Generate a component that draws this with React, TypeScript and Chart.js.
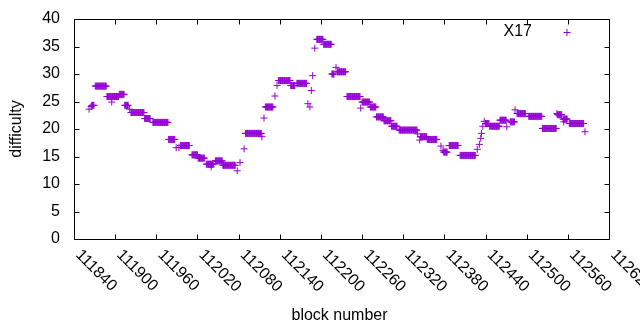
import React, { useEffect, useRef } from 'react';
import { Chart, registerables } from 'chart.js';

Chart.register(...registerables);

// Runs of constant difficulty: first block, last block, value
const runStart = [
  111862, 111865, 111866, 111871, 111888, 111895, 111906, 111914, 111921, 111923,
  111943, 111955, 111978, 111989, 111993, 111995, 112012, 112021, 112033, 112040,
  112046, 112057, 112078, 112082, 112088, 112090, 112114, 112117, 112119, 112133,
  112136, 112138, 112156, 112165, 112181, 112184, 112186, 112188, 112191, 112194,
  112204, 112216, 112222, 112224, 112238, 112258, 112260, 112272, 112281, 112292,
  112303, 112314, 112341, 112344, 112345, 112355, 112375, 112378, 112379, 112387,
  112403, 112428, 112431, 112433, 112434, 112436, 112438, 112440, 112446, 112461,
  112471, 112476, 112483, 112486, 112503, 112523, 112544, 112545, 112553, 112554,
  112562, 112585,
];
const runEnd = [
  111862, 111865, 111869, 111887, 111905, 111895, 111913, 111919, 111921, 111942,
  111951, 111977, 111987, 111989, 111993, 112008, 112020, 112030, 112043, 112040,
  112056, 112075, 112078, 112082, 112088, 112113, 112114, 112117, 112130, 112133,
  112136, 112155, 112162, 112179, 112181, 112184, 112186, 112188, 112191, 112203,
  112215, 112219, 112222, 112236, 112257, 112258, 112271, 112280, 112291, 112302,
  112311, 112340, 112341, 112344, 112354, 112369, 112375, 112378, 112384, 112400,
  112425, 112428, 112431, 112433, 112434, 112436, 112438, 112445, 112460, 112470,
  112471, 112482, 112483, 112498, 112522, 112543, 112544, 112551, 112559, 112554,
  112583, 112585,
];
const runValue = [
  23.6, 24.1, 24.3, 27.8, 25.9, 24.9, 26.3, 24.3, 23.6, 23.0,
  21.9, 21.2, 18.1, 16.6, 16.6, 17.0, 15.3, 14.7, 13.6, 13.1,
  14.2, 13.4, 12.4, 13.9, 16.4, 19.2, 18.6, 22.0, 24.0, 26.0,
  27.9, 28.8, 27.9, 28.3, 24.6, 24.0, 27.0, 29.7, 34.7, 36.3,
  35.4, 30.0, 31.2, 30.4, 25.9, 23.8, 24.9, 24.0, 22.2, 21.5,
  20.5, 19.8, 19.1, 18.0, 18.6, 18.1, 16.9, 16.1, 15.8, 17.0,
  15.2, 16.3, 17.2, 18.3, 19.2, 20.5, 21.4, 21.0, 20.5, 21.6,
  20.4, 21.3, 23.5, 22.8, 22.3, 20.1, 22.8, 22.6, 21.8, 21.3,
  21.0, 19.5,
];

const xTickLabels = [
  111840, 111900, 111960, 112020, 112080, 112140, 112200,
  112260, 112320, 112380, 112440, 112500, 112560, 112620,
];
const yTickLabels = [0, 5, 10, 15, 20, 25, 30, 35, 40];

const seriesName = 'X17';
const xTitle = 'block number';
const yTitle = 'difficulty';

const COLOR = '#9400d3';
const FONT = '"Liberation Sans", Arial, sans-serif';
const FONT_SIZE = 16;

export default function App() {
  const ref = useRef<HTMLCanvasElement | null>(null);

  useEffect(() => {
    if (!ref.current) return;
    const points: { x: number; y: number }[] = [];
    for (let i = 0; i < runStart.length; i++) {
      for (let b = runStart[i]; b <= runEnd[i]; b++) {
        points.push({ x: b, y: runValue[i] });
      }
    }

    const framePlugin = {
      id: 'gnuframe',
      afterDraw(chart: any) {
        const ctx = chart.ctx as CanvasRenderingContext2D;
        const a = chart.chartArea;
        const xs = chart.scales.x;
        const ys = chart.scales.y;
        ctx.save();
        ctx.strokeStyle = '#000';
        ctx.lineWidth = 1;
        const L = Math.round(a.left) + 0.5;
        const R = Math.round(a.right) + 0.5;
        const T = Math.round(a.top) + 0.5;
        const B = Math.round(a.bottom) + 0.5;
        ctx.beginPath();
        ctx.rect(L, T, R - L, B - T);
        const tl = 5;
        xTickLabels.forEach((v) => {
          const px = Math.round(xs.getPixelForValue(v)) + 0.5;
          ctx.moveTo(px, B);
          ctx.lineTo(px, B - tl);
          ctx.moveTo(px, T);
          ctx.lineTo(px, T + tl);
        });
        yTickLabels.forEach((v) => {
          const py = Math.round(ys.getPixelForValue(v)) + 0.5;
          ctx.moveTo(L, py);
          ctx.lineTo(L + tl, py);
          ctx.moveTo(R, py);
          ctx.lineTo(R - tl, py);
        });
        ctx.stroke();

        ctx.fillStyle = '#000';
        ctx.font = `${FONT_SIZE}px ${FONT}`;
        xTickLabels.forEach((v) => {
          const px = xs.getPixelForValue(v);
          ctx.save();
          ctx.translate(px + 4, B + 13);
          ctx.rotate(Math.PI / 4);
          ctx.textAlign = 'left';
          ctx.textBaseline = 'middle';
          ctx.fillText(String(v), 0, 0);
          ctx.restore();
        });
        ctx.textAlign = 'center';
        ctx.textBaseline = 'middle';
        ctx.fillText(xTitle, (a.left + a.right) / 2 - 2, 316);
        ctx.save();
        ctx.translate(17, (a.top + a.bottom) / 2);
        ctx.rotate(-Math.PI / 2);
        ctx.fillText(yTitle, 0, 0);
        ctx.restore();
        ctx.textAlign = 'right';
        ctx.fillText(seriesName, 532, 32);
        ctx.strokeStyle = COLOR;
        ctx.beginPath();
        ctx.moveTo(563.5, 32.5);
        ctx.lineTo(570.5, 32.5);
        ctx.moveTo(567, 29);
        ctx.lineTo(567, 36);
        ctx.stroke();
        ctx.restore();
      },
    };

    const chart = new Chart(ref.current, {
      type: 'scatter',
      data: {
        datasets: [
          {
            label: seriesName,
            data: points,
            pointStyle: 'cross',
            pointRadius: 3.5,
            pointBorderWidth: 1,
            borderColor: COLOR,
            backgroundColor: COLOR,
            showLine: false,
          },
        ],
      },
      options: {
        responsive: false,
        devicePixelRatio: 1,
        animation: false,
        events: [],
        layout: { padding: { top: 19, right: 31, left: 0, bottom: 0 } },
        plugins: { legend: { display: false }, tooltip: { enabled: false } },
        scales: {
          x: {
            type: 'linear',
            min: 111840,
            max: 112620,
            ticks: { display: false, stepSize: 60 },
            grid: { display: false },
            border: { display: false },
            afterFit: (s: any) => {
              s.height = 91;
            },
          },
          y: {
            min: 0,
            max: 40,
            ticks: {
              stepSize: 5,
              color: '#000',
              padding: 0,
              font: { family: FONT, size: FONT_SIZE },
            },
            grid: {
              display: true,
              drawOnChartArea: false,
              drawTicks: true,
              tickLength: 14,
              color: 'rgba(0,0,0,0)',
            },
            border: { display: false },
            afterFit: (s: any) => {
              s.width = 74;
            },
          },
        },
      },
      plugins: [framePlugin],
    });
    return () => chart.destroy();
  }, []);

  return (
    <canvas
      ref={ref}
      width={640}
      height={330}
      style={{ position: 'absolute', left: 0, top: 0, width: 640, height: 330 }}
    />
  );
}
